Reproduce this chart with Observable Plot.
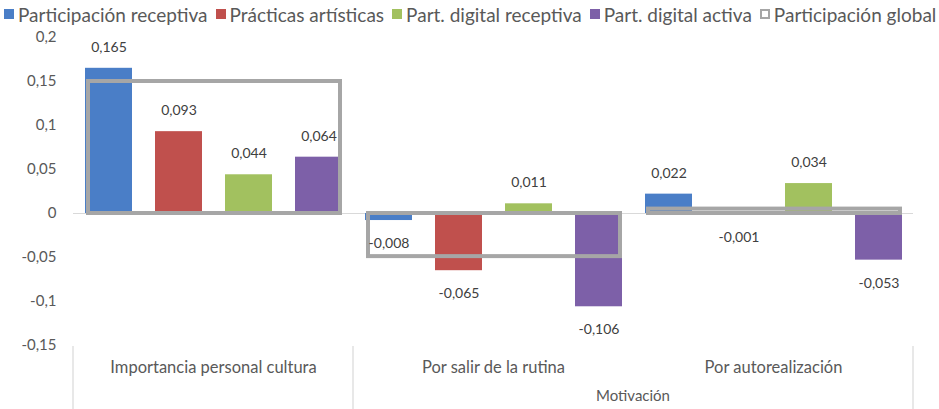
<!DOCTYPE html>
<html>
<head>
<meta charset="utf-8">
<script src="https://cdn.jsdelivr.net/npm/d3@7"></script>
<script src="https://cdn.jsdelivr.net/npm/@observablehq/plot@0.6"></script>
<style>
  html, body { margin: 0; padding: 0; background: #fff; }
  body { width: 939px; height: 409px; overflow: hidden; font-family: Lato, "Open Sans", sans-serif; }
  #legend { height: 28px; display: flex; align-items: center; font-size: 19px; color: #595959; white-space: nowrap; padding-left: 4px; }
  .item { display: flex; align-items: center; margin-right: 8px; }
  .sw { width: 10px; height: 10px; margin-right: 4px; box-sizing: border-box; }
</style>
</head>
<body>
<div id="legend"></div>
<div id="chart"></div>
<script>
// ---- data ----
const categories = ["Importancia personal cultura", "Por salir de la rutina", "Por autorealización"];
const outerGroups = ["", "Motivación", "Motivación"];
const series = ["Participación receptiva", "Prácticas artísticas", "Part. digital receptiva", "Part. digital activa"];
const globalName = "Participación global";
const receptiva = [0.165, -0.008, 0.022];
const artisticas = [0.093, -0.065, -0.001];
const digitalReceptiva = [0.044, 0.011, 0.034];
const digitalActiva = [0.064, -0.106, -0.053];
const globalValues = [0.15, -0.049, 0.005];
const yTicks = [-0.15, -0.1, -0.05, 0, 0.05, 0.1, 0.15, 0.2];
const colors = ["#4a7ec7", "#c0504d", "#a2c15f", "#7d60a8"];
const globalColor = "#a6a6a6";

// ---- tables ----
const seriesValues = [receptiva, artisticas, digitalReceptiva, digitalActiva];
const bars = [];
series.forEach((s, i) => categories.forEach((c, j) => bars.push({category: c, series: s, value: seriesValues[i][j]})));
const globals = categories.map((c, j) => ({category: c, value: globalValues[j]}));
const fmt = v => String(v).replace(".", ",");

// ---- legend ----
const legend = document.getElementById("legend");
series.concat([globalName]).forEach((s, i) => {
  const item = document.createElement("div");
  item.className = "item";
  const sw = document.createElement("div");
  sw.className = "sw";
  if (i < series.length) sw.style.background = colors[i];
  else { sw.style.border = "2.5px solid " + globalColor; sw.style.background = "#fff"; }
  const t = document.createElement("span");
  t.textContent = s;
  item.appendChild(sw); item.appendChild(t);
  legend.appendChild(item);
});

// ---- chart ----
const W = 939, H = 381;
const plot = Plot.plot({
  width: W,
  height: H,
  marginTop: 9,
  marginBottom: 64,
  marginLeft: 72,
  marginRight: 26,
  style: {fontFamily: "Lato, 'Open Sans', sans-serif", fontSize: "15px", color: "#595959", background: "#fff"},
  fx: {domain: categories, padding: 0, axis: "bottom", tickSize: 0, tickPadding: 16, label: null},
  x: {domain: series, paddingInner: 0.3286, paddingOuter: 0.164, axis: null},
  y: {domain: [-0.15, 0.2], ticks: yTicks, tickFormat: fmt, tickSize: 0, tickPadding: 17, label: null},
  color: {domain: series, range: colors},
  marks: [
    Plot.ruleY([0], {stroke: "#d9d9d9", strokeWidth: 1.2}),
    Plot.barY(bars, {fx: "category", x: "series", y: "value", fill: "series"}),
    Plot.barY(globals, {fx: "category", y: "value", fill: "none", stroke: globalColor, strokeWidth: 4, insetLeft: 15, insetRight: 13}),
    Plot.text(bars.filter(d => d.value >= 0), {fx: "category", x: "series", y: "value", text: d => fmt(d.value), dy: -21, fontSize: 14, fill: "#404040"}),
    Plot.text(bars.filter(d => d.value < 0), {fx: "category", x: "series", y: "value", text: d => fmt(d.value), dy: 23, fontSize: 14, fill: "#404040"})
  ]
});
document.getElementById("chart").appendChild(plot);

// enlarge the category (fx) axis labels
d3.select(plot).selectAll("g[aria-label='fx-axis tick label'], g[aria-label='fx-axis']").attr("font-size", 16.5);
d3.select(plot).selectAll("g[aria-label='fx-axis tick label'] text, g[aria-label='fx-axis'] text").attr("font-size", 16.5);

// ---- outer category level: dividers and "Motivación" from the fx scale ----
const fx = plot.scale("fx");
const bw = fx.bandwidth;
const frameBottom = H - 64;
const svg = d3.select(plot);
const groups = d3.groups(categories.map((c, j) => ({c, g: outerGroups[j]})), d => d.g);
const edges = new Set();
groups.forEach(([g, members]) => {
  const xs = members.map(m => fx.apply(m.c));
  const left = d3.min(xs), right = d3.max(xs) + bw;
  edges.add(left); edges.add(right);
  if (g) {
    svg.append("text").attr("x", (left + right) / 2).attr("y", H - 8)
      .attr("text-anchor", "middle").attr("fill", "#595959").attr("font-size", 15).text(g);
  }
});
[...edges].forEach(x => {
  svg.append("line").attr("x1", x).attr("x2", x).attr("y1", frameBottom + 1).attr("y2", H)
    .attr("stroke", "#d9d9d9").attr("stroke-width", 1.2);
});
</script>
</body>
</html>
